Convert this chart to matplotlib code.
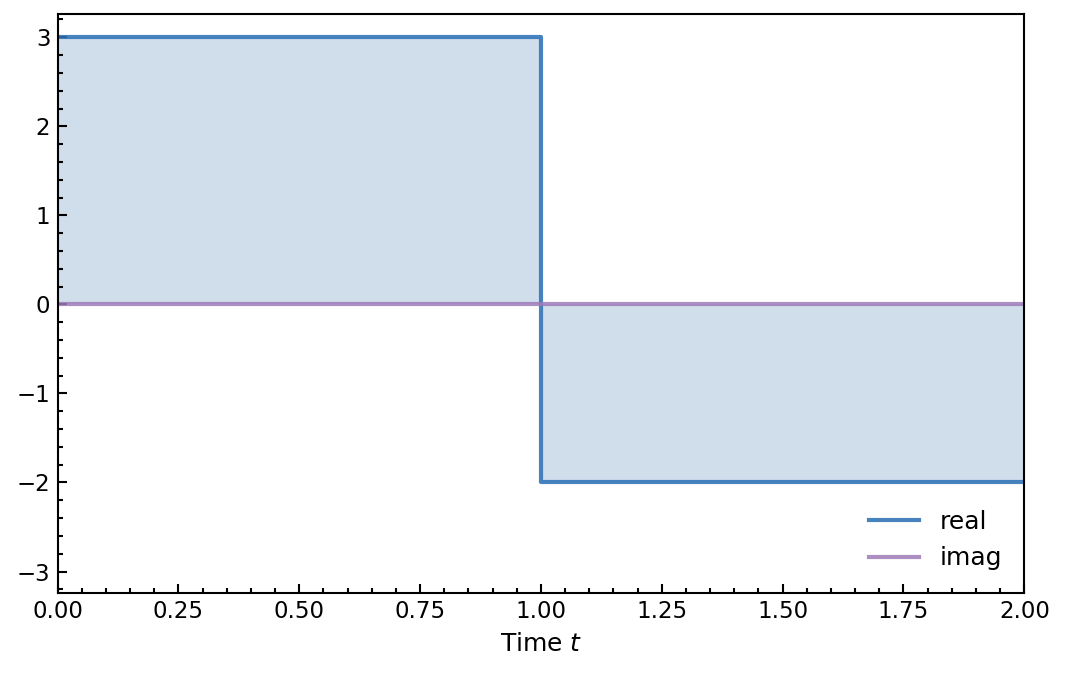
import numpy as np
import matplotlib.pyplot as plt
from matplotlib.ticker import AutoMinorLocator

# Step signal samples (piecewise constant).
t = [0.0, 1.0, 1.0, 2.0]
real = [3.0, 3.0, -2.0, -2.0]
imag = [0.0, 0.0, 0.0, 0.0]

plt.rcParams['font.size'] = 12
plt.rcParams['axes.linewidth'] = 1.0

fig, ax = plt.subplots(figsize=(1067 / 150, 673 / 150), dpi=150)

ax.fill_between(t, real, 0, color='#4a7fb5', alpha=0.26, linewidth=0)
ax.plot(t, real, color='#2f72b6', lw=2.0, alpha=0.88, label='real')
ax.plot(t, imag, color='#9c7bb8', lw=2.0, alpha=0.85, label='imag')

ax.set_xlim(0, 2)
ax.set_ylim(-3.24, 3.26)
ax.set_xticks(np.arange(0, 2.01, 0.25))
ax.set_yticks(np.arange(-3, 4, 1))
ax.xaxis.set_minor_locator(AutoMinorLocator(5))
ax.yaxis.set_minor_locator(AutoMinorLocator(5))
ax.tick_params(which='both', direction='in', width=1.0, labelsize=11)
ax.tick_params(which='major', length=4.5)
ax.tick_params(which='minor', length=2.2)
ax.set_xlabel('Time $t$')
ax.legend(loc='lower right', frameon=False)

fig.subplots_adjust(left=0.054, right=0.96, top=0.979, bottom=0.119)
fig.savefig('out.png', dpi=150)
